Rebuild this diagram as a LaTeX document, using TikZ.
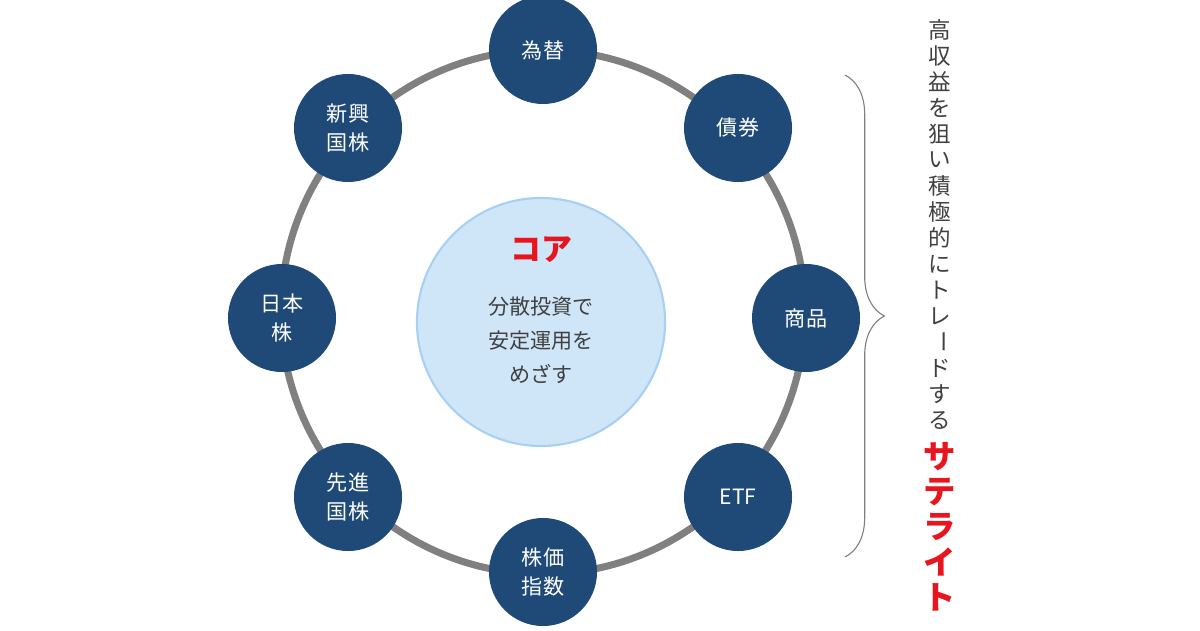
\documentclass[tikz,border=0pt]{standalone}
\usepackage{fontspec}
\usepackage{graphicx}
\setmainfont{Noto Sans CJK JP}
\usetikzlibrary{decorations.pathreplacing}
\definecolor{navy}{HTML}{1F4A78}
\definecolor{ring}{HTML}{808080}
\definecolor{corefill}{HTML}{CFE6F8}
\definecolor{coreline}{HTML}{A8D0F2}
\definecolor{satred}{HTML}{E8141E}
\definecolor{txtgray}{HTML}{404040}
\begin{document}
\begin{tikzpicture}[x=0.025cm,y=-0.025cm]
\tikzset{asset/.style={circle, fill=navy, text=white, minimum size=2.7cm, inner sep=0pt, align=center, font=\fontsize{15}{20}\selectfont}}
\useasboundingbox (0,0) rectangle (1200,630);

\coordinate (O) at (543,312);
\draw[ring, line width=5pt] (O) circle [radius=262];

\node[circle, fill=corefill, draw=coreline, line width=1.5pt, minimum size=6.2cm, inner sep=0pt] (core) at (541,322) {};
\node[text=satred, font=\fontsize{22}{24}\selectfont\bfseries] (coretitle) at (541,250) {コア};
\node[text=txtgray, align=center, font=\fontsize{15}{24}\selectfont] (coretext) at (541,340) {分散投資で\\安定運用を\\めざす};

\node[asset] (fx) at (543,50) {為替};
\node[asset] (bond) at (738,128) {債券};
\node[asset] (goods) at (806,318) {商品};
\node[asset] (etf) at (738,497) {ETF};
\node[asset] (index) at (543,572) {株価\\指数};
\node[asset] (adv) at (348,497) {先進\\国株};
\node[asset] (jp) at (282,318) {日本\\株};
\node[asset] (emg) at (348,128) {新興\\国株};

% brace
\coordinate (btop) at (845,75);
\coordinate (bbot) at (845,557);
\draw[ring, line width=0.8pt, decorate, decoration={brace, amplitude=28pt}] (btop) -- (bbot);

% vertical text
\foreach \c [count=\i] in {高,収,益,を,狙,い,積,極,的,に,ト,レ,{\rotatebox[origin=c]{-90}{ー}},ド,す,る}
  \node[text=txtgray, font=\fontsize{16}{16}\selectfont, inner sep=0pt] (v\i) at (940,30+26*\i-26) {\c};
\foreach \c [count=\i] in {サ,テ,ラ,イ,ト}
  \node[text=satred, font=\fontsize{23}{23}\selectfont\bfseries, inner sep=0pt] (s\i) at (940,422+35*\i) {\c};
\end{tikzpicture}
\end{document}
